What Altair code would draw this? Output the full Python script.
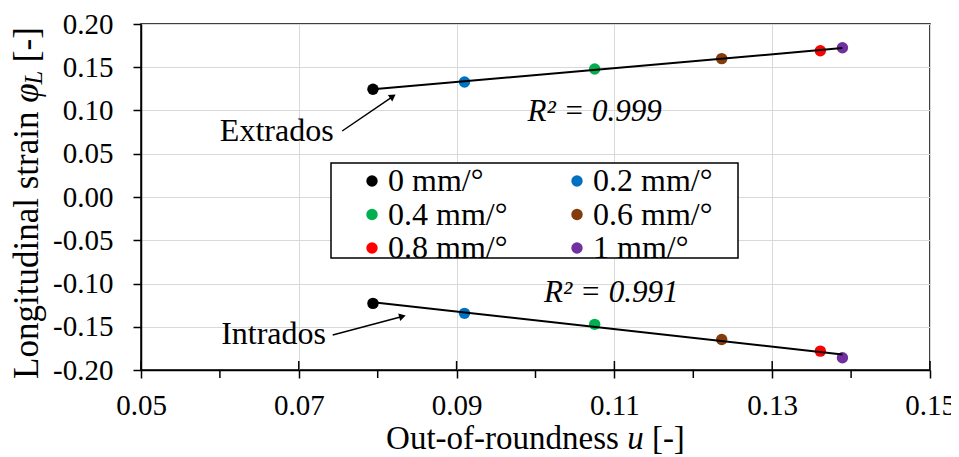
import math
import altair as alt
import pandas as pd

# ---------------- data ----------------
series = ["0 mm/°", "0.2 mm/°", "0.4 mm/°", "0.6 mm/°", "0.8 mm/°", "1 mm/°"]
colors = ["#000000", "#0070C0", "#00B050", "#843C0C", "#FF0000", "#7030A0"]
u_values = [0.0794, 0.0910, 0.1075, 0.1236, 0.1361, 0.1389]
extrados = [0.1245, 0.1330, 0.1480, 0.1600, 0.1690, 0.1726]
intrados = [-0.1230, -0.1345, -0.1472, -0.1647, -0.1782, -0.1858]

x_major = [0.05, 0.07, 0.09, 0.11, 0.13, 0.15]
x_minor = [0.06, 0.08, 0.10, 0.12, 0.14]
y_ticks = [0.20, 0.15, 0.10, 0.05, 0.00, -0.05, -0.10, -0.15, -0.20]

r2_labels = ["R² = 0.999", "R² = 0.991"]
r2_x = [0.1075, 0.1096]
r2_y = [0.0983, -0.1110]

side_labels = ["Extrados", "Intrados"]
side_x = [0.0672, 0.0668]
side_y = [0.0763, -0.1584]
arrow_x1 = [0.0755, 0.0743]
arrow_y1 = [0.0763, -0.1595]
arrow_x2 = [0.0818, 0.0830]
arrow_y2 = [0.1156, -0.1384]

# ---------------- layout ----------------
W, H = 789, 346
FONT = "Liberation Serif"
PX_X = W / 0.10
PX_Y = H / 0.40

pts = pd.DataFrame({
    "u": u_values * 2,
    "strain": extrados + intrados,
    "series": series * 2,
    "side": ["Extrados"] * 6 + ["Intrados"] * 6,
})

xs = alt.Scale(domain=[0.05, 0.15], nice=False, zero=False)
ys = alt.Scale(domain=[-0.20, 0.20], nice=False, zero=False)
common_axis = dict(labelFont=FONT, labelFontSize=29, labelColor="black",
                   domainColor="black", domainWidth=1.5, tickColor="black",
                   tickWidth=1.5, gridColor="#d9d9d9", gridWidth=1,
                   labelFlush=False, labelOverlap=False, labelBound=False,
                   grid=True, title=None, tickSize=8)
xa = alt.Axis(values=x_major, format=".2f", labelPadding=13, **common_axis)
ya = alt.Axis(values=y_ticks, labelPadding=20,
              labelExpr="replace(format(datum.value, '.2f'), '\u2212', '-')",
              **common_axis)


def X(field):
    return alt.X(field, scale=xs, axis=xa)


def Y(field):
    return alt.Y(field, scale=ys, axis=ya)


points = alt.Chart(pts).mark_circle(size=130, opacity=1).encode(
    x=X("u:Q"), y=Y("strain:Q"),
    color=alt.Color("series:N", scale=alt.Scale(domain=series, range=colors),
                    legend=alt.Legend(
                        title=None, orient="none", legendX=215, legendY=141,
                        direction="horizontal", columns=2, columnPadding=53,
                        rowPadding=1.5, labelFont=FONT, labelFontSize=32,
                        labelColor="black", labelOffset=0, symbolSize=130,
                        symbolType="circle", symbolStrokeWidth=0, padding=0,
                        labelLimit=0)),
)

fit = alt.Chart(pts).transform_regression(
    "u", "strain", groupby=["side"]
).mark_line(color="black", strokeWidth=2).encode(
    x=X("u:Q"), y=Y("strain:Q"), detail="side:N",
)

legend_box = alt.Chart(alt.Data(values=[{}])).mark_rect(
    fill="white", stroke="black", strokeWidth=1.5
).encode(x=alt.value(190), x2=alt.value(597), y=alt.value(139), y2=alt.value(234))

# tick extras: inner part of major ticks, minor outside ticks
tick_major_in = alt.Chart(pd.DataFrame({"u": x_major})).mark_rule(
    color="black", strokeWidth=1.5).encode(
    x=X("u:Q"), y=alt.value(H - 9), y2=alt.value(H))
tick_minor = alt.Chart(pd.DataFrame({"u": x_minor})).mark_rule(
    color="black", strokeWidth=1.5).encode(
    x=X("u:Q"), y=alt.value(H), y2=alt.value(H + 8))

r2_df = pd.DataFrame({"t": r2_labels, "u": r2_x, "strain": r2_y})
r2_text = alt.Chart(r2_df).mark_text(
    font=FONT, fontSize=31, fontStyle="italic", color="black",
    align="center", baseline="middle").encode(
    x=X("u:Q"), y=Y("strain:Q"), text="t:N")

side_df = pd.DataFrame({"t": side_labels, "u": side_x, "strain": side_y})
side_text = alt.Chart(side_df).mark_text(
    font=FONT, fontSize=32, color="black", align="center", baseline="middle").encode(
    x=X("u:Q"), y=Y("strain:Q"), text="t:N")

angles = []
for a, b, c, d in zip(arrow_x1, arrow_y1, arrow_x2, arrow_y2):
    dx = (c - a) * PX_X
    dy = -(d - b) * PX_Y
    angles.append((math.degrees(math.atan2(dx, -dy)) + 360) % 360)

arr_df = pd.DataFrame({"u": arrow_x1, "strain": arrow_y1, "u2": arrow_x2,
                       "strain2": arrow_y2, "ang": angles})
arrow_line = alt.Chart(arr_df).mark_rule(color="black", strokeWidth=1.5).encode(
    x=X("u:Q"), y=Y("strain:Q"), x2="u2:Q", y2="strain2:Q")
arrow_head = alt.Chart(arr_df).mark_point(
    shape="triangle", filled=True, color="black", size=60, opacity=1).encode(
    x=X("u2:Q"), y=Y("strain2:Q"),
    angle=alt.Angle("ang:Q", scale=None))

# ---- axis titles (with italic symbols) ----
one = alt.Data(values=[{}])
XF = 33
xu = W / 2 + 2.777 * XF
xt_y = H + 69
x_title = (
    alt.Chart(one).mark_text(text="Out-of-roundness", font=FONT, fontSize=XF, color="black",
                             align="right", baseline="middle").encode(
        x=alt.value(xu - 0.25 * XF), y=alt.value(xt_y))
    + alt.Chart(one).mark_text(text="u", font=FONT, fontSize=XF, fontStyle="italic",
                               color="black", align="left", baseline="middle").encode(
        x=alt.value(xu), y=alt.value(xt_y))
    + alt.Chart(one).mark_text(text="[-]", font=FONT, fontSize=XF, color="black",
                               align="left", baseline="middle").encode(
        x=alt.value(xu + 0.75 * XF), y=alt.value(xt_y))
)

YF = 35
yt_x = 27 - 141
total = 10.05 * YF
y_start = H / 2 + 6 + total / 2
y_title = (
    alt.Chart(one).mark_text(text="Longitudinal strain", font=FONT, fontSize=YF, angle=270,
                             color="black", align="left", baseline="middle").encode(
        x=alt.value(yt_x), y=alt.value(y_start))
    + alt.Chart(one).mark_text(text="φ", font=FONT, fontSize=YF, angle=270, fontStyle="italic",
                               color="black", align="left", baseline="middle").encode(
        x=alt.value(yt_x), y=alt.value(y_start - 7.889 * YF))
    + alt.Chart(one).mark_text(text="L", font=FONT, fontSize=YF * 0.7, angle=270,
                               fontStyle="italic", color="black", align="left",
                               baseline="middle").encode(
        x=alt.value(yt_x + 0.22 * YF), y=alt.value(y_start - 8.41 * YF))
    + alt.Chart(one).mark_text(text="[-]", font=FONT, fontSize=YF, angle=270,
                               color="black", align="left", baseline="middle").encode(
        x=alt.value(yt_x), y=alt.value(y_start - 9.05 * YF))
)

chart = alt.layer(
    points, fit, legend_box, tick_major_in, tick_minor, r2_text, side_text,
    arrow_line, arrow_head, x_title, y_title
).properties(
    width=W, height=H,
    autosize=alt.AutoSizeParams(type="none"),
    padding={"left": 133, "top": 16, "right": 21, "bottom": 86},
).configure_view(
    stroke="black", strokeWidth=1.5
)

chart.save("out.html", embed_options={"renderer": "svg", "actions": False})
